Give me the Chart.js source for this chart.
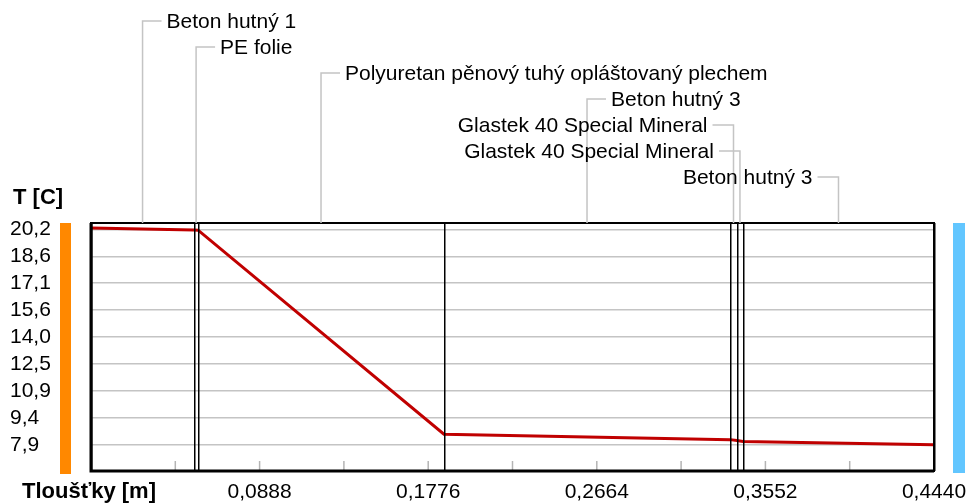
<!DOCTYPE html>
<html>
<head>
<meta charset="utf-8">
<script src="https://cdn.jsdelivr.net/npm/chart.js@4.4.1/dist/chart.umd.min.js"></script>
<style>
  html, body { margin: 0; padding: 0; background: #fff; }
  #wrap { width: 967px; height: 504px; }
</style>
</head>
<body>
<div id="wrap"><canvas id="teplotyChart" width="967" height="504"></canvas></div>
<script>
// Vrstvy konstrukce a průběh teploty
const vrstvy = ["Beton hutný 1", "PE folie", "Polyuretan pěnový tuhý opláštovaný plechem", "Beton hutný 3",
    "Glastek 40 Special Mineral", "Glastek 40 Special Mineral", "Beton hutný 3"];
const hranice = [0, 0.0543, 0.0564, 0.1859, 0.3366, 0.3402, 0.3434, 0.4440]; // [m]
const teploty = [20.28, 20.16, 20.15, 8.51, 8.20, 8.15, 8.09, 7.91];      // [C]

// Popisky os
const yTicks = [7.9, 9.4375, 10.975, 12.5125, 14.05, 15.5875, 17.125, 18.6625, 20.2];
const yTickLabels = ["7,9", "9,4", "10,9", "12,5", "14,0", "15,6", "17,1", "18,6", "20,2"];
const xTicks = [0, 0.0444, 0.0888, 0.1332, 0.1776, 0.2220, 0.2664, 0.3108, 0.3552, 0.3996, 0.4440];
const xTickLabels = ["", "", "0,0888", "", "0,1776", "", "0,2664", "", "0,3552", "", "0,4440"];

const font = "'Liberation Sans', Arial, sans-serif";

// Kreslení vrstev, rámečku a popisků
const vrstvyPlugin = {
    id: "vrstvy",
    beforeDraw(chart) {
        const { ctx, chartArea: a } = chart;
        ctx.save();
        ctx.fillStyle = "#ff8800";
        ctx.fillRect(60, a.top, 11, a.bottom - a.top + 3);
        ctx.fillStyle = "#62c6ff";
        ctx.fillRect(953, a.top, 12, a.bottom - a.top + 2);
        ctx.restore();
    },
    afterDatasetsDraw(chart) {
        const { ctx, chartArea: a, scales: { x } } = chart;
        ctx.save();

        // drobné značky na ose x
        ctx.strokeStyle = "#b4b4b4";
        ctx.lineWidth = 1.5;
        xTicks.slice(1, -1).forEach(v => {
            const px = x.getPixelForValue(v);
            ctx.beginPath();
            ctx.moveTo(px, a.bottom - 10);
            ctx.lineTo(px, a.bottom);
            ctx.stroke();
        });

        // hranice vrstev
        ctx.strokeStyle = "#000";
        ctx.lineWidth = 1.5;
        hranice.forEach(v => {
            const px = Math.round(x.getPixelForValue(v)) + 0.75;
            ctx.beginPath();
            ctx.moveTo(px, a.top);
            ctx.lineTo(px, a.bottom);
            ctx.stroke();
        });

        // rámeček
        ctx.lineWidth = 2;
        ctx.strokeRect(a.left, a.top, a.right - a.left, a.bottom - a.top);
        ctx.lineWidth = 3;
        ctx.beginPath();
        ctx.moveTo(a.left, a.top);
        ctx.lineTo(a.left, a.bottom);
        ctx.lineTo(a.right, a.bottom);
        ctx.stroke();

        // názvy vrstev s odkazovými čarami
        ctx.font = "21px " + font;
        ctx.textBaseline = "middle";
        vrstvy.forEach((nazev, i) => {
            const cx = (x.getPixelForValue(hranice[i]) + x.getPixelForValue(hranice[i + 1])) / 2;
            const rowY = 21 + 26 * i;
            const vlevo = i >= 4;
            ctx.strokeStyle = "#c4c4c4";
            ctx.lineWidth = 1.5;
            ctx.beginPath();
            ctx.moveTo(cx, a.top);
            ctx.lineTo(cx, rowY);
            ctx.lineTo(vlevo ? cx - 21 : cx + 19, rowY);
            ctx.stroke();
            ctx.fillStyle = "#000";
            ctx.textAlign = vlevo ? "right" : "left";
            ctx.fillText(nazev, vlevo ? cx - 26 : cx + 24, rowY + 1);
        });

        // názvy os
        ctx.font = "bold 22px " + font;
        ctx.textAlign = "left";
        ctx.fillText("T [C]", 13, 198);
        ctx.fillText("Tloušťky [m]", 22, 492);
        ctx.restore();
    }
};

const ctxTeploty = document.getElementById("teplotyChart").getContext("2d");
const teplotyChart = new Chart(ctxTeploty, {
    type: "line",
    data: {
        datasets: [{
            data: hranice.map((h, i) => ({ x: h, y: teploty[i] })),
            borderColor: "#c00000",
            borderWidth: 3,
            pointRadius: 0,
            tension: 0,
            fill: false
        }]
    },
    options: {
        responsive: false,
        animation: false,
        layout: { padding: { left: 10, right: 33, top: 223, bottom: 0 } },
        plugins: { legend: { display: false }, tooltip: { enabled: false } },
        scales: {
            x: {
                type: "linear",
                min: 0,
                max: 0.444,
                afterBuildTicks: s => { s.ticks = xTicks.map(v => ({ value: v })); },
                afterFit: s => { s.height = 33; s.paddingLeft = 0; s.paddingRight = 0; },
                grid: { display: false, drawTicks: false },
                border: { display: false },
                ticks: {
                    autoSkip: false,
                    maxRotation: 0,
                    padding: 9,
                    color: "#000",
                    font: { family: font, size: 21 },
                    callback: (v, i) => xTickLabels[i]
                }
            },
            y: {
                min: 6.41,
                max: 20.56,
                afterBuildTicks: s => { s.ticks = yTicks.map(v => ({ value: v })); },
                afterFit: s => { s.width = 81; s.paddingTop = 0; s.paddingBottom = 0; },
                grid: { color: "#c4c4c4", lineWidth: 1.5, drawTicks: false },
                border: { display: false },
                ticks: {
                    crossAlign: "far",
                    autoSkip: false,
                    color: "#000",
                    font: { family: font, size: 21 },
                    callback: (v, i) => yTickLabels[i]
                }
            }
        }
    },
    plugins: [vrstvyPlugin]
});
</script>
</body>
</html>
